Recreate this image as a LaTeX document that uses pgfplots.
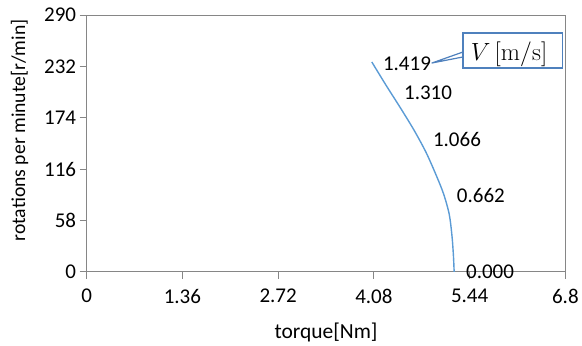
\documentclass[border=0pt]{standalone}
\usepackage[no-math]{fontspec}
\setmainfont{Carlito}
\usepackage{pgfplots}
\pgfplotsset{compat=1.18}
\definecolor{lineblue}{HTML}{5B9BD5}
\definecolor{boxblue}{HTML}{4F81BD}
\definecolor{axgray}{HTML}{868686}
\begin{document}
\begin{tikzpicture}
\begin{axis}[
  scale only axis,
  width=479pt, height=257pt,
  xmin=0, xmax=6.8, ymin=0, ymax=290,
  xtick={0,1.36,2.72,4.08,5.44,6.8},
  ytick={0,58,116,174,232,290},
  tick pos=left,
  tick align=outside,
  major tick length=7pt,
  axis line style={axgray, line width=0.8pt},
  every tick/.style={axgray, line width=0.8pt},
  /pgf/number format/assume math mode=true,
  tick label style={font=\fontsize{21}{24}\selectfont},
  xticklabel style={yshift=-7pt},
  xlabel={torque[Nm]},
  ylabel={rotations per minute[r/min]},
  xlabel style={font=\fontsize{21.5}{24}\selectfont, yshift=-12pt},
  ylabel style={font=\fontsize{19.7}{24}\selectfont, yshift=9pt, xshift=13pt},
  clip=false,
]
\addplot[lineblue, line width=1.4pt, smooth, no marks] coordinates {
  (4.05,237) (4.25,211) (4.45,186) (4.65,160) (4.82,135) (4.96,110)
  (5.07,88) (5.15,65) (5.19,40) (5.21,18) (5.22,0)
};
\addplot[draw=none, no marks,
  nodes near coords,
  point meta=explicit symbolic,
  every node near coord/.append style={anchor=center, font=\fontsize{21}{24}\selectfont, text=black},
] coordinates {
  (4.55,234.7) [1.419]
  (4.85,202) [1.310]
  (5.26,149) [1.066]
  (5.60,86.7) [0.662]
  (5.73,0) [0.000]
};
\filldraw[fill=white, draw=boxblue, line width=1.2pt, line join=round]
  (axis cs:4.905,235.8) -- (axis cs:5.345,242.6) -- (axis cs:5.345,248.2) -- cycle;
\draw[boxblue, line width=1.6pt, fill=white] (axis cs:5.345,230.2) rectangle (axis cs:6.76,269.7);
\node[font=\fontsize{25}{28}\selectfont] at (axis cs:6.0,246) {$V\,[\mathrm{m/s}]$};
\end{axis}
\path ([shift={(-86.7pt,-72.3pt)}]current axis.south west) rectangle ([shift={(16pt,15pt)}]current axis.north east);
\end{tikzpicture}
\end{document}
